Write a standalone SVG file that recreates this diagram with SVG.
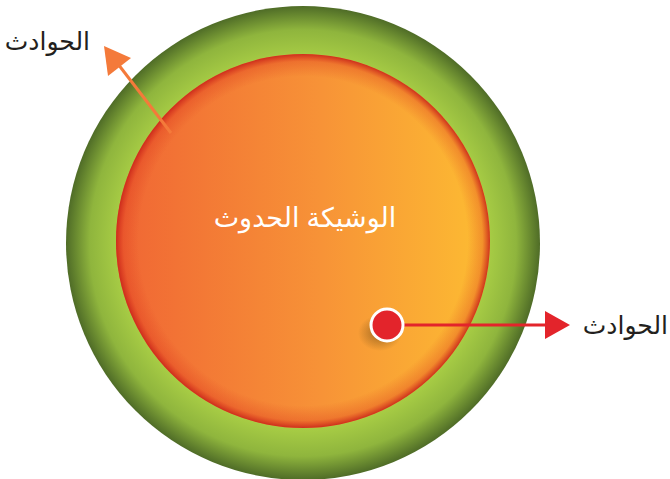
<svg xmlns="http://www.w3.org/2000/svg" width="670" height="479" viewBox="0 0 670 479">
<defs>
<radialGradient id="gOuter" cx="303" cy="243" r="237" gradientUnits="userSpaceOnUse">
<stop offset="0.78" stop-color="#a8cd45"/>
<stop offset="0.9" stop-color="#8fb53d"/>
<stop offset="1" stop-color="#4f6c27"/>
</radialGradient>
<linearGradient id="gInner" x1="117" y1="0" x2="490" y2="0" gradientUnits="userSpaceOnUse">
<stop offset="0" stop-color="#f06634"/>
<stop offset="0.55" stop-color="#f79337"/>
<stop offset="1" stop-color="#fdbd32"/>
</linearGradient>
<radialGradient id="gInnerEdge" cx="303" cy="241" r="187" gradientUnits="userSpaceOnUse">
<stop offset="0.88" stop-color="#d9301a" stop-opacity="0"/>
<stop offset="0.96" stop-color="#d9301a" stop-opacity="0.3"/>
<stop offset="1" stop-color="#c8261a" stop-opacity="0.9"/>
</radialGradient>
<radialGradient id="gShadow">
<stop offset="0" stop-color="#5a3a10" stop-opacity="0.55"/>
<stop offset="1" stop-color="#5a3a10" stop-opacity="0"/>
</radialGradient>
<style>
.lbl{font-family:"Noto Sans","DejaVu Sans",sans-serif;font-size:25px;fill:#231f20}
.ctr{font-family:"Noto Sans","DejaVu Sans",sans-serif;font-size:27px;fill:#ffffff}
</style>
</defs>
<g id="outer">
<circle cx="303" cy="243" r="237" fill="url(#gOuter)"/>
</g>
<g id="inner">
<circle cx="303" cy="241" r="187" fill="url(#gInner)"/>
<circle cx="303" cy="241" r="187" fill="url(#gInnerEdge)"/>
<text class="ctr" x="305" y="227" text-anchor="middle">الوشيكة الحدوث</text>
</g>
<g id="connectors">
<line x1="171" y1="133" x2="118" y2="64" stroke="#f47a3a" stroke-width="3"/>
<polygon points="104,46 131,58 108,76" fill="#f47a3a"/>
<line x1="400" y1="325" x2="548" y2="325" stroke="#e3242b" stroke-width="3"/>
<polygon points="570,325 545,311 545,339" fill="#e3242b"/>
</g>
<g id="dot">
<ellipse cx="380" cy="333" rx="22" ry="18" fill="url(#gShadow)"/>
<circle cx="387" cy="325" r="16" fill="#e3242b" stroke="#ffffff" stroke-width="3"/>
</g>
<g id="label-top">
<text class="lbl" x="90" y="50" text-anchor="end">الحوادث</text>
</g>
<g id="label-right">
<text class="lbl" x="668" y="334" text-anchor="end">الحوادث</text>
</g>
</svg>
